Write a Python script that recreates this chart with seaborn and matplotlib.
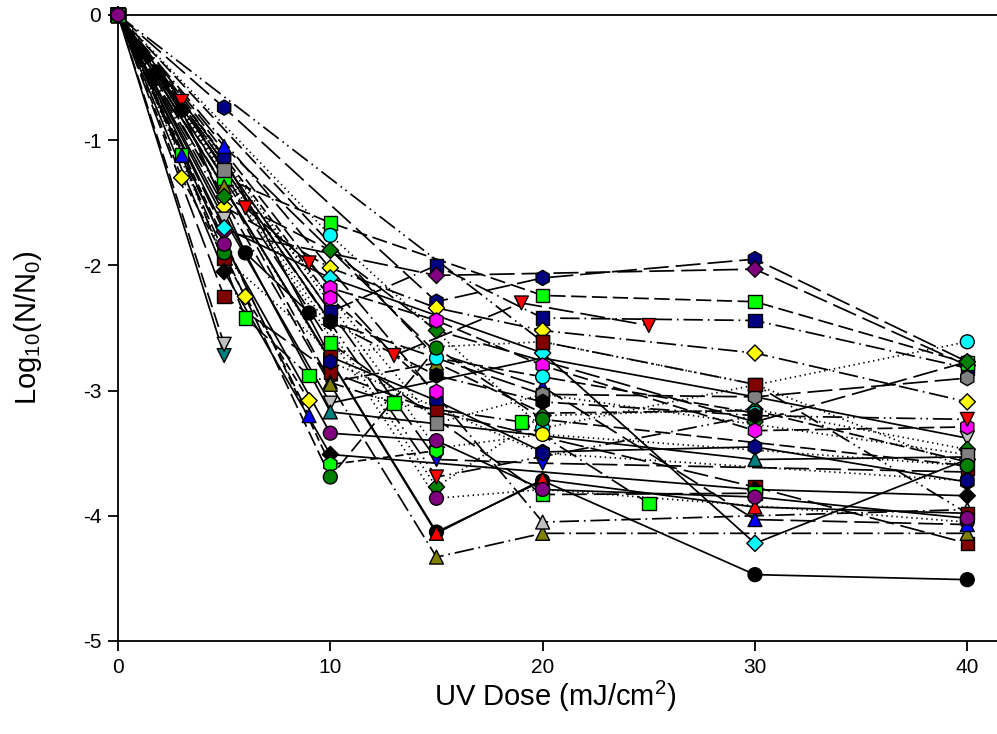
import matplotlib
matplotlib.use("Agg")
import matplotlib.pyplot as plt
import pandas as pd
import seaborn as sns

# UV inactivation curves: log10 survival versus UV dose, one list pair per data set
dose_01 = [0, 5, 15, 20, 30, 40]
logr_01 = [0, -0.74, -2.29, -2.10, -1.95, -2.77]
dose_02 = [0, 5, 10, 15, 20, 30, 40]
logr_02 = [0, -1.14, -2.73, -3.08, -3.49, -3.45, -3.73]
dose_03 = [0, 10, 15, 20, 30, 40]
logr_03 = [0, -2.37, -2.00, -2.42, -2.44, -2.82]
dose_04 = [0, 5, 15, 30, 40]
logr_04 = [0, -1.73, -2.08, -2.03, -2.80]
dose_05 = [0, 5, 10, 20, 30, 40]
logr_05 = [0, -1.30, -1.66, -2.24, -2.29, -2.78]
dose_06 = [0, 3, 6, 9, 13, 19, 25]
logr_06 = [0, -1.12, -2.42, -2.88, -3.10, -3.25, -3.90]
dose_07 = [0, 3, 6, 9, 13, 19, 25]
logr_07 = [0, -0.69, -1.54, -1.98, -2.72, -2.30, -2.48]
dose_08 = [0, 3, 6, 9]
logr_08 = [0, -1.30, -2.25, -3.08]
dose_09 = [0, 3, 6, 9]
logr_09 = [0, -0.76, -1.90, -2.38]
dose_10 = [0, 3, 9]
logr_10 = [0, -1.12, -3.20]
dose_11 = [0, 5, 10, 15, 20, 30, 40]
logr_11 = [0, -1.53, -2.02, -2.34, -2.52, -2.70, -3.09]
dose_12 = [0, 5, 10, 20, 30, 40]
logr_12 = [0, -1.94, -2.69, -2.61, -2.95, -3.62]
dose_13 = [0, 5, 10, 15, 30, 40]
logr_13 = [0, -2.25, -2.85, -3.17, -3.77, -4.22]
dose_14 = [0, 5, 10, 20, 30, 40]
logr_14 = [0, -1.63, -3.10, -2.74, -3.05, -3.38]
dose_15 = [0, 10, 30, 40]
logr_15 = [0, -3.17, -3.55, -3.53]
dose_16 = [0, 5]
logr_16 = [0, -2.72]
dose_17 = [0, 5]
logr_17 = [0, -2.63]
dose_18 = [0, 5, 10, 15, 20, 30, 40]
logr_18 = [0, -1.37, -2.93, -2.78, -3.18, -3.16, -3.57]
dose_19 = [0, 10, 15, 20, 40]
logr_19 = [0, -2.95, -4.33, -4.14, -4.14]
dose_20 = [0, 5, 10, 15, 30, 40]
logr_20 = [0, -1.45, -1.88, -2.52, -3.25, -2.77]
dose_21 = [0, 15, 20, 30, 40]
logr_21 = [0, -3.77, -3.20, -3.15, -3.47]
dose_22 = [0, 15, 20, 40]
logr_22 = [0, -3.86, -3.79, -4.05]
dose_23 = [0, 15, 20, 30, 40]
logr_23 = [0, -4.13, -3.72, -4.47, -4.51]
dose_24 = [0, 5, 10, 20, 30, 40]
logr_24 = [0, -1.70, -2.10, -2.70, -4.22, -3.55]
dose_25 = [0, 10, 15, 20, 30, 40]
logr_25 = [0, -2.18, -2.44, -2.80, -3.32, -3.29]
dose_26 = [0, 10, 15]
logr_26 = [0, -2.26, -3.01]
dose_27 = [0, 5, 15, 20, 30, 40]
logr_27 = [0, -1.05, -2.70, -2.97, -4.03, -4.07]
dose_28 = [0, 15, 20, 30, 40]
logr_28 = [0, -4.14, -3.71, -3.93, -3.98]
dose_29 = [0, 15, 30, 40]
logr_29 = [0, -3.69, -3.20, -3.23]
dose_30 = [0, 15, 20, 40]
logr_30 = [0, -3.55, -3.58, -3.65]
dose_31 = [0, 5, 15, 20, 40]
logr_31 = [0, -1.24, -3.26, -3.03, -3.51]
dose_32 = [0, 10, 20, 40]
logr_32 = [0, -1.76, -3.30, -2.61]
dose_33 = [0, 15, 20, 30]
logr_33 = [0, -2.74, -2.89, -3.18]
dose_34 = [0, 20, 40]
logr_34 = [0, -4.05, -3.95]
dose_35 = [0, 15, 20, 40]
logr_35 = [0, -3.46, -3.35, -3.60]
dose_36 = [0, 10, 20, 30, 40]
logr_36 = [0, -2.45, -3.03, -3.05, -2.90]
dose_37 = [0, 5, 10, 30, 40]
logr_37 = [0, -2.05, -3.51, -3.79, -3.84]
dose_38 = [0, 10, 15]
logr_38 = [0, -3.59, -3.48]
dose_39 = [0, 5, 10, 15, 20, 40]
logr_39 = [0, -1.90, -3.69, -2.66, -3.23, -3.60]
dose_40 = [0, 10, 15, 20, 30]
logr_40 = [0, -2.45, -2.88, -3.09, -3.20]
dose_41 = [0, 20, 30, 40]
logr_41 = [0, -2.61, -2.95, -3.98]
dose_42 = [0, 10, 20, 30]
logr_42 = [0, -2.62, -3.83, -3.82]
dose_43 = [0, 10, 20, 40]
logr_43 = [0, -2.77, -3.50, -3.72]
dose_44 = [0, 5, 10, 15, 20, 30, 40]
logr_44 = [0, -1.83, -3.34, -3.40, -3.79, -3.85, -4.02]

series_data = [
    (dose_01, logr_01), (dose_02, logr_02), (dose_03, logr_03), (dose_04, logr_04),
    (dose_05, logr_05), (dose_06, logr_06), (dose_07, logr_07), (dose_08, logr_08),
    (dose_09, logr_09), (dose_10, logr_10), (dose_11, logr_11), (dose_12, logr_12),
    (dose_13, logr_13), (dose_14, logr_14), (dose_15, logr_15), (dose_16, logr_16),
    (dose_17, logr_17), (dose_18, logr_18), (dose_19, logr_19), (dose_20, logr_20),
    (dose_21, logr_21), (dose_22, logr_22), (dose_23, logr_23), (dose_24, logr_24),
    (dose_25, logr_25), (dose_26, logr_26), (dose_27, logr_27), (dose_28, logr_28),
    (dose_29, logr_29), (dose_30, logr_30), (dose_31, logr_31), (dose_32, logr_32),
    (dose_33, logr_33), (dose_34, logr_34), (dose_35, logr_35), (dose_36, logr_36),
    (dose_37, logr_37), (dose_38, logr_38), (dose_39, logr_39), (dose_40, logr_40),
    (dose_41, logr_41), (dose_42, logr_42), (dose_43, logr_43), (dose_44, logr_44),
]

# Symbol fill colour, symbol shape and line type of each data set
series_colors = [
    "#000080", "#000080", "#000080", "#800080", "#00FF00", "#00FF00", "#FF0000", "#FFFF00",
    "#000000", "#0000FF", "#FFFF00", "#800000", "#800000", "#C0C0C0", "#008080", "#008080",
    "#C0C0C0", "#808000", "#808000", "#008000", "#008000", "#800080", "#000000", "#00FFFF",
    "#FF00FF", "#FF00FF", "#0000FF", "#FF0000", "#FF0000", "#0000FF", "#808080", "#00FFFF",
    "#00FFFF", "#C0C0C0", "#FFFF00", "#808080", "#000000", "#00FF00", "#008000", "#000000",
    "#800000", "#00FF00", "#000080", "#800080",
]
series_markers = [
    "h", "h", "s", "D", "s", "s", "v", "D",
    "o", "^", "D", "s", "s", "v", "^", "v",
    "v", "^", "^", "D", "D", "o", "o", "D",
    "h", "h", "^", "^", "v", "v", "s", "o",
    "o", "^", "o", "h", "D", "h", "o", "h",
    "s", "s", "h", "o",
]
series_lines = [
    "long", "solid", "dashdot", "long", "medium", "dashdot", "long", "short",
    "solid", "medium", "dashdot", "dot", "long", "solid", "solid", "solid",
    "medium", "medium", "dashdot", "long", "dot", "dot", "solid", "solid",
    "medium", "short", "long", "solid", "dashdotdot", "long", "dot", "dot",
    "medium", "dashdot", "dot", "long", "solid", "short", "medium", "dashdot",
    "dashdotdot", "long", "dot", "solid",
]

line_dashes = {
    "solid": "",
    "long": (18, 5),
    "medium": (11, 4),
    "short": (6, 3),
    "dot": (1, 2.6),
    "dashdot": (14, 3.5, 1.2, 3.5),
    "dashdotdot": (14, 3.5, 1.2, 3, 1.2, 3.5),
}
marker_sizes = {"o": 100, "s": 95, "^": 100, "v": 100, "D": 68, "h": 120}

rows = []
for i, (d, v) in enumerate(series_data):
    name = f"set{i + 1:02d}"
    for x, y in zip(d, v):
        rows.append({"series": name, "dose": x, "logr": y, "shape": series_markers[i]})
df = pd.DataFrame(rows)
names = [f"set{i + 1:02d}" for i in range(len(series_data))]

dash_map = {n: line_dashes[s] for n, s in zip(names, series_lines)}
color_map = dict(zip(names, series_colors))
marker_map = dict(zip(names, series_markers))

sns.set_theme(style="ticks")
plt.rcParams.update({
    "font.family": ["Liberation Sans", "DejaVu Sans"],
    "mathtext.fontset": "custom",
    "mathtext.rm": "Liberation Sans",
    "mathtext.it": "Liberation Sans:italic",
    "mathtext.bf": "Liberation Sans:bold",
    "axes.unicode_minus": False,
    "lines.scale_dashes": False,
})

fig = plt.figure(figsize=(9.97, 7.34), dpi=100)
ax = fig.add_axes([118 / 997, 93 / 734, 879 / 997, 626 / 734])

sns.lineplot(
    data=df, x="dose", y="logr", units="series", estimator=None,
    style="series", dashes=dash_map, color="black", linewidth=1.25,
    sort=False, legend=False, ax=ax, zorder=2,
)
sns.scatterplot(
    data=df, x="dose", y="logr", hue="series", palette=color_map,
    style="series", markers=marker_map, size="shape", sizes=marker_sizes,
    edgecolor="black", linewidth=1.0, alpha=1, legend=False, ax=ax,
    zorder=3, clip_on=False,
)

ax.set_xlim(0, 41.4)
ax.set_ylim(-5, 0)
ax.set_xticks([0, 10, 20, 30, 40])
ax.set_yticks([-5, -4, -3, -2, -1, 0])
ax.spines["right"].set_visible(False)
for side in ["left", "bottom", "top"]:
    ax.spines[side].set_linewidth(1.3)
    ax.spines[side].set_color("black")
ax.tick_params(direction="out", length=7, width=1.3, labelsize=15,
               colors="black", pad=5)
ax.set_xlabel(r"UV Dose (mJ/cm$^2$)", fontsize=21, color="black")
ax.set_ylabel(r"Log$_{10}$(N/N$_0$)", fontsize=21, color="black")
ax.xaxis.set_label_coords(0.497, -0.06)
ax.yaxis.set_label_coords(-0.084, 0.5)

fig.savefig("out.png", dpi=100, facecolor="white")
